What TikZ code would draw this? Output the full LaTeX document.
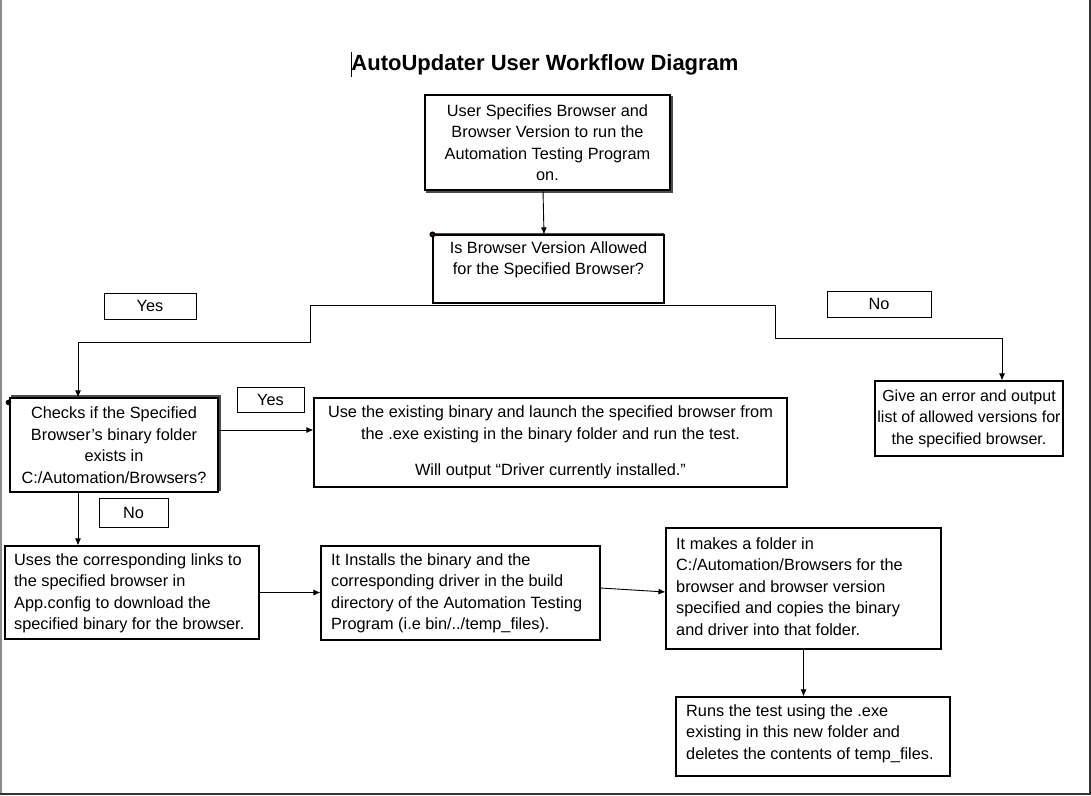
\documentclass[tikz,border=0pt]{standalone}
\usepackage{fontspec}
\setmainfont{Liberation Sans}
\usetikzlibrary{arrows.meta}
\begin{document}
\begin{tikzpicture}[x=1pt,y=-1pt,
  box/.style={draw=black, line width=1.1pt, inner sep=0pt, align=center,
    font=\fontsize{16.3}{21.5}\selectfont},
  lbl/.style={draw=black, line width=0.9pt, inner sep=0pt,
    font=\fontsize{16.3}{19}\selectfont},
  txt/.style={inner sep=0pt, align=left, anchor=west,
    font=\fontsize{16.3}{21.5}\selectfont},
  conn/.style={line width=0.9pt, -{Latex[length=7pt,width=6pt]}},
  plain/.style={line width=0.9pt},
  shade/.style={draw=black!70, line width=1.6pt},
  pagerule/.style={line width=2pt, draw=black!80}
]
\useasboundingbox (0,0) rectangle (1091,795);
% page edges
\draw[line width=1.5pt, draw=black!45] (0.75,0) -- (0.75,795);
\draw[pagerule] (1089.5,0) -- (1089.5,795);
\draw[pagerule] (0,793.5) -- (1091,793.5);

% title
\node[inner sep=0pt, font=\fontsize{22}{26}\selectfont\bfseries] (title) at (545,65) {AutoUpdater User Workflow Diagram};
\draw[line width=0.8pt] (351,52) -- (351,77);

% top box with shadow
\draw[shade] (427,97) rectangle (672,192);
\node[box, fill=white, minimum width=245pt, minimum height=95pt] (top) at (547.5,142.5)
  {User Specifies Browser and\\Browser Version to run the\\Automation Testing Program\\on.};

% decision box
\draw[shade] (433,233.5) -- (664,233.5);
\draw[shade] (433,302.5) -- (664,302.5);
\node[box, minimum width=231pt, minimum height=68pt] (dec) at (548.5,269)
  {Is Browser Version Allowed\\for the Specified Browser?\\\mbox{}};
\fill[black] (dec.north west) circle (3pt);
\fill[red!60!black] (dec.north west) circle (1pt);

% labels
\node[lbl, minimum width=92pt, minimum height=26pt] (yes1) at (150,306) {Yes};
\node[lbl, minimum width=104pt, minimum height=26pt] (no1) at (879,304) {No};
\node[lbl, minimum width=67pt, minimum height=25pt] (yes2) at (270.5,399.5) {Yes};
\node[lbl, minimum width=69pt, minimum height=29pt] (no2) at (133.5,512.5) {No};

% check box with shadow
\draw[shade] (12,396) rectangle (220,490);
\node[box, fill=white, minimum width=208pt, minimum height=94pt] (check) at (114,445)
  {Checks if the Specified\\Browser’s binary folder\\exists in\\C:/Automation/Browsers?};
\fill[black] (check.north west) ++(-1,5) circle (2.8pt);

% use existing box
\node[box, minimum width=473pt, minimum height=89pt] (use) at (550.5,442.5)
  {Use the existing binary and launch the specified browser from\\the .exe existing in the binary folder and run the test.\\[14.5pt]Will output “Driver currently installed.”};

% error box
\node[box, font=\fontsize{16}{21.5}\selectfont, minimum width=188pt, minimum height=75pt] (err) at (969,418.5)
  {Give an error and output\\list of allowed versions for\\the specified browser.};

% bottom row boxes
\node[box, minimum width=254pt, minimum height=93pt] (uses) at (132,592.5) {};
\node[txt] (usesT) at (14,593.5)
  {Uses the corresponding links to\\the specified browser in\\App.config to download the\\specified binary for the browser.};

\node[box, minimum width=279pt, minimum height=94pt] (inst) at (460.5,593) {};
\node[txt] (instT) at (331,593.5)
  {It Installs the binary and the\\corresponding driver in the build\\directory of the Automation Testing\\Program (i.e bin/../temp\_files).};

\node[box, minimum width=275pt, minimum height=121pt] (makes) at (803.5,588.5) {};
\node[txt] (makesT) at (676,586.5)
  {It makes a folder in\\C:/Automation/Browsers for the\\browser and browser version\\specified and copies the binary\\and driver into that folder.};

\node[box, minimum width=274pt, minimum height=79pt] (runs) at (813,736.5) {};
\node[txt] (runsT) at (686,733.5)
  {Runs the test using the .exe\\existing in this new folder and\\deletes the contents of temp\_files.};

% connectors
\coordinate (jl) at (310,305);
\coordinate (jr) at (775,305);
\coordinate (kl) at (78,342);
\coordinate (kr) at (1002,338);

\draw[conn] ([xshift=-4.5pt]top.south) -- ([xshift=-4.5pt]dec.north);
\draw[plain] (jl) -- (jr);
\draw[conn] (jl) |- (kl) -- (kl |- check.north);
\draw[conn] (jr) |- (kr) -- (kr |- err.north);
\draw[conn] ([yshift=15pt]check.east) -- ([yshift=15pt]check.east -| use.west);
\draw[conn] (kl |- check.south) -- (kl |- uses.north);
\draw[conn] (uses.east) -- (uses.east -| inst.west);
\draw[conn] ([yshift=5pt]inst.east) -- ([yshift=-3.5pt]makes.west);
\draw[conn] (makes.south) -- (makes.south |- runs.north);
\end{tikzpicture}
\end{document}
